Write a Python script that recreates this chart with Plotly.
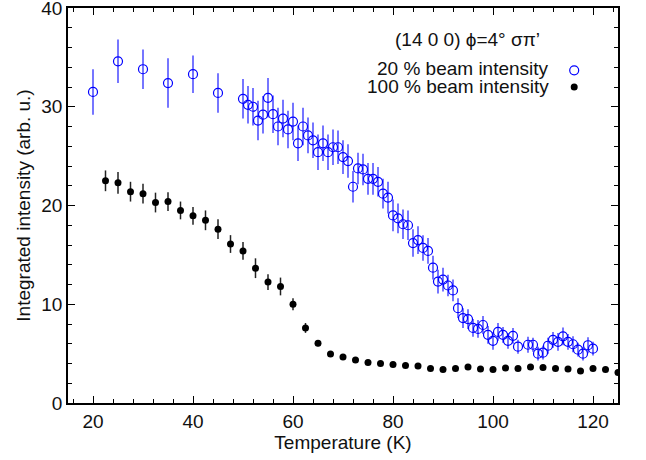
import plotly.graph_objects as go

# 20 % beam intensity (open blue circles)
t_20 = [20, 25, 30, 35, 40, 45,
        50, 51, 52, 53, 54, 55, 56, 57, 58, 59,
        60, 61, 62, 63, 64, 65, 66, 67, 68, 69,
        70, 71, 72, 73, 74, 75, 76, 77, 78, 79,
        80, 81, 82, 83, 84, 85, 86, 87, 88, 89,
        90, 91, 92, 93, 94, 95, 96, 97, 98, 99,
        100, 101, 102, 103, 104, 105, 107, 108, 109,
        110, 111, 112, 113, 114, 115, 116, 117, 118, 119, 120]
i_20 = [31.5, 34.6, 33.8, 32.4, 33.3, 31.4,
        30.8, 30.2, 30.0, 28.6, 29.2, 30.9, 29.25, 28.0, 28.8, 27.7,
        28.5, 26.3, 28.0, 27.1, 26.6, 25.4, 26.3, 25.4, 25.9, 25.9,
        24.9, 24.5, 21.9, 23.75, 23.65, 22.7, 22.7, 22.4, 21.2, 20.8,
        19.0, 18.7, 18.1, 18.0, 16.2, 16.5, 15.7, 15.4, 13.7, 12.3,
        12.5, 11.9, 11.4, 9.6, 8.6, 8.5, 7.6, 7.5, 7.9, 6.9,
        6.3, 7.2, 6.9, 6.3, 6.8, 5.7, 5.9, 5.9, 5.0,
        5.1, 5.8, 6.4, 6.2, 6.75, 6.2, 5.95, 5.4, 5.0, 5.85, 5.5]
e_20 = [2.3, 2.2, 2.0, 2.5, 1.9, 2.0,
        2.0, 1.9, 1.9, 2.0, 1.9, 2.0, 1.9, 1.9, 1.9, 1.9,
        1.9, 1.8, 1.9, 1.8, 1.8, 1.8, 1.8, 1.8, 1.8, 1.7,
        1.7, 1.7, 1.6, 1.6, 1.6, 1.6, 1.6, 1.5, 1.5, 1.6,
        1.6, 1.5, 1.5, 1.5, 1.4, 1.4, 1.3, 1.3, 1.2, 1.2,
        1.2, 1.1, 1.1, 1.0, 1.0, 1.0, 0.9, 0.9, 0.9, 0.9,
        0.9, 0.9, 0.8, 0.8, 0.8, 0.7, 0.8, 0.7, 0.7,
        0.7, 0.8, 0.8, 0.9, 0.9, 0.8, 0.8, 0.7, 0.7, 0.8, 0.7]

# 100 % beam intensity (filled black circles)
t_100 = [22.5, 25, 27.5, 30, 32.5, 35, 37.5, 40, 42.5, 45,
         47.5, 50, 52.5, 55, 57.5, 60, 62.5, 65, 67.5, 70,
         72.5, 75, 77.5, 80, 82.5, 85, 87.5, 90, 92.5, 95,
         97.5, 100, 102.5, 105, 107.5, 110, 112.5, 115, 117.5, 120,
         122.5, 125]
i_100 = [22.5, 22.3, 21.4, 21.2, 20.3, 20.4, 19.5, 18.95, 18.5, 17.6,
         16.1, 15.4, 13.65, 12.25, 11.8, 10.0, 7.6, 6.05, 4.95, 4.65,
         4.35, 4.1, 4.0, 3.9, 3.8, 3.75, 3.5, 3.4, 3.5, 3.65,
         3.45, 3.4, 3.55, 3.5, 3.65, 3.6, 3.5, 3.45, 3.25, 3.5,
         3.4, 3.1]
e_100 = [1.05, 1.1, 1.0, 1.0, 1.0, 0.95, 0.9, 0.9, 1.0, 1.0,
         0.9, 0.9, 1.0, 0.8, 0.9, 0.6, 0.5, 0.3, 0.25, 0.2,
         0.2, 0.2, 0.2, 0.2, 0.2, 0.2, 0.2, 0.2, 0.2, 0.2,
         0.2, 0.2, 0.2, 0.2, 0.2, 0.2, 0.2, 0.2, 0.2, 0.2,
         0.2, 0.2]

font = 'Arial, Liberation Sans, sans-serif'

fig = go.Figure()
fig.add_trace(go.Scatter(
    x=t_20, y=i_20, mode='markers', name='', legend='legend',
    marker=dict(symbol='circle-open', size=9, color='#0000ff',
                line=dict(width=1.2, color='#0000ff')),
    error_y=dict(type='data', array=e_20, color='rgba(40,40,255,0.85)',
                 thickness=1.5, width=0),
))
fig.add_trace(go.Scatter(
    x=t_100, y=i_100, mode='markers', name='', legend='legend2',
    marker=dict(symbol='circle', size=7, color='black'),
    error_y=dict(type='data', array=e_100, color='#222',
                 thickness=1.5, width=0),
))

axis = dict(showline=True, linecolor='black', linewidth=1.5, mirror='ticks',
            ticks='inside', ticklen=7, tickwidth=1, tickcolor='black',
            showgrid=False, zeroline=False, automargin=False,
            ticklabeloverflow='allow',
            tickfont=dict(family=font, size=19, color='#111'))

fig.update_xaxes(range=[15, 125], tick0=20, dtick=20,
                 minor=dict(ticks='inside', ticklen=4, tick0=0, dtick=4,
                            tickcolor='black', showgrid=False),
                 title=dict(text='Temperature (K)', standoff=2,
                            font=dict(family=font, size=19, color='#111')),
                 **axis)
fig.update_yaxes(range=[0, 40], tick0=0, dtick=10,
                 minor=dict(ticks='inside', ticklen=4, tick0=0, dtick=2,
                            tickcolor='black', showgrid=False),
                 title=dict(text='Integrated intensity (arb. u.)', standoff=6,
                            font=dict(family=font, size=19, color='#111')),
                 **axis)

txt = dict(family=font, size=19, color='#111')
fig.add_annotation(text='(14 0 0) \u03d5=4\u00b0 \u03c3\u03c0\u2019', xref='paper', yref='paper',
                   x=0.726, y=0.92, xanchor='center', yanchor='middle',
                   showarrow=False, font=txt)
fig.add_annotation(text='20 % beam intensity', xref='paper', yref='paper',
                   x=0.879, y=0.847, xanchor='right', yanchor='middle',
                   showarrow=False, font=txt)
fig.add_annotation(text='100 % beam intensity', xref='paper', yref='paper',
                   x=0.879, y=0.800, xanchor='right', yanchor='middle',
                   showarrow=False, font=txt)

leg = dict(xanchor='left', yanchor='top', bgcolor='rgba(0,0,0,0)',
           font=dict(size=10), itemwidth=30)
fig.update_layout(
    width=646, height=460,
    margin={'l': 68, 'r': 28, 't': 8, 'b': 57},
    paper_bgcolor='white', plot_bgcolor='white',
    showlegend=True,
    legend=dict(x=0.884, y=0.879, **leg),
    legend2=dict(x=0.884, y=0.837, **leg),
)

# drop the default 8px page margin so the figure sits at the window origin
fig.write_html("out.html", config={'displayModeBar': False},
               post_script="document.body.style.margin='0';")
